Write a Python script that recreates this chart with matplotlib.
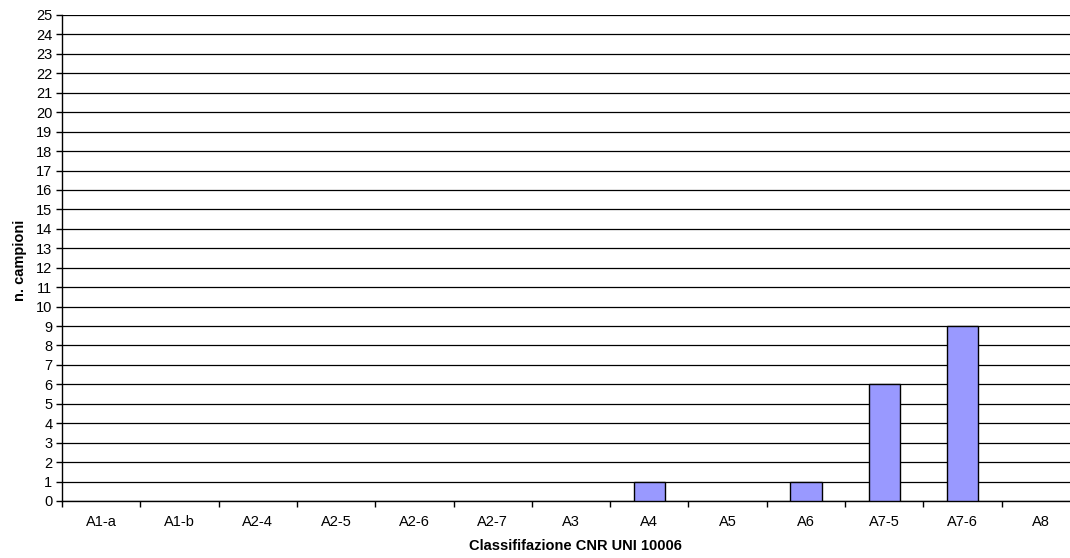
import matplotlib
matplotlib.use("Agg")
import matplotlib.pyplot as plt
import numpy as np

plt.rcParams['font.family'] = ['Liberation Sans', 'DejaVu Sans']

categories = ['A1-a', 'A1-b', 'A2-4', 'A2-5', 'A2-6', 'A2-7', 'A3',
              'A4', 'A5', 'A6', 'A7-5', 'A7-6', 'A8']
campioni = [0, 0, 0, 0, 0, 0, 0, 1, 0, 1, 6, 9, 0]

fig = plt.figure(figsize=(10.70, 5.58), dpi=100)
# plot area runs slightly past the right edge, as in the original crop
ax = fig.add_axes([62 / 1070, 1 - 501 / 558, (1080 - 62) / 1070, (501 - 15) / 558])

x = np.arange(len(categories))
edges = ['black' if v > 0 else 'none' for v in campioni]   # empty classes show nothing
ax.bar(x, campioni, width=0.4, color='#9999FF', edgecolor=edges, linewidth=1, zorder=3)

ax.set_xlim(-0.5, len(categories) - 0.5)
ax.set_ylim(0, 25)
ax.set_yticks(range(0, 26))
ax.yaxis.grid(True, color='black', linewidth=0.9)
ax.set_axisbelow(True)

ax.set_xticks(x)
ax.set_xticklabels(categories)
ax.set_xticks(np.arange(-0.5, len(categories)), minor=True)
ax.tick_params(axis='x', which='major', length=0, pad=10, labelsize=10.5)
ax.tick_params(axis='x', which='minor', length=4, width=1, direction='out')
ax.tick_params(axis='y', length=4, width=1, direction='out', labelsize=10.5, pad=3)

for s in ['top', 'right']:
    ax.spines[s].set_visible(False)
ax.spines['left'].set_linewidth(1)
ax.spines['bottom'].set_linewidth(1)

fig.text(20 / 1070, 1 - 260 / 558, 'n. campioni', rotation=90, fontsize=10.5,
         fontweight='bold', ha='center', va='center')
fig.text(575 / 1070, 1 - 546 / 558, 'Classififazione CNR UNI 10006', fontsize=10.5,
         fontweight='bold', ha='center', va='center')

fig.savefig('out.png', dpi=100)
